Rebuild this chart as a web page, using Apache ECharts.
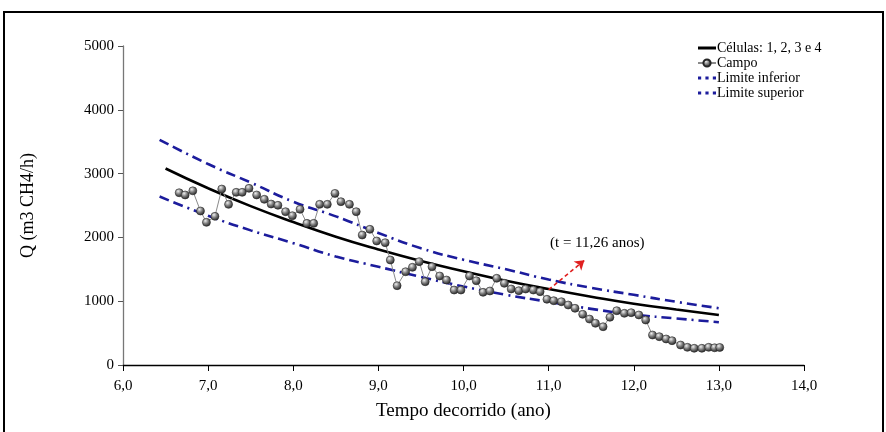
<!DOCTYPE html>
<html>
<head>
<meta charset="utf-8">
<script src="https://cdn.jsdelivr.net/npm/echarts@6/dist/echarts.min.js"></script>
<style>
  html, body { margin: 0; padding: 0; background: #fff; }
  #chart { width: 886px; height: 432px; }
</style>
</head>
<body>
<div id="chart"></div>
<script>
// valores
var campoT = [6.66, 6.73, 6.82, 6.91, 6.98, 7.08, 7.16, 7.24, 7.33, 7.40, 7.48, 7.57, 7.66, 7.74, 7.82, 7.91,
  7.99, 8.08, 8.16, 8.24, 8.31, 8.40, 8.49, 8.56, 8.66, 8.74, 8.81, 8.90, 8.98, 9.08, 9.14, 9.22,
  9.32, 9.40, 9.48, 9.55, 9.63, 9.72, 9.80, 9.89, 9.97, 10.07, 10.15, 10.23, 10.31, 10.39, 10.48,
  10.56, 10.65, 10.73, 10.82, 10.90, 10.98, 11.06, 11.15, 11.23, 11.31, 11.40, 11.48, 11.55, 11.64,
  11.72, 11.80, 11.89, 11.97, 12.06, 12.14, 12.22, 12.30, 12.38, 12.45, 12.55, 12.63, 12.71, 12.80,
  12.88, 12.95, 13.01];
var campoQ = [2700, 2665, 2730, 2414, 2236, 2330, 2758, 2518, 2706, 2706, 2769, 2665, 2597, 2523, 2503, 2403,
  2340, 2440, 2220, 2220, 2518, 2518, 2690, 2560, 2518, 2403, 2037, 2127, 1944, 1917, 1646, 1243,
  1462, 1531, 1620, 1305, 1540, 1395, 1332, 1175, 1175, 1395, 1321, 1139, 1160, 1359, 1280,
  1191, 1165, 1191, 1175, 1149, 1030, 1008, 992, 940, 889, 795, 720, 654, 600,
  748, 851, 810, 820, 784, 705, 470, 444, 408, 381, 313, 277, 262, 262,
  277, 270, 275];

var modeloT = [6.5, 7.0, 7.5, 8.0, 8.5, 9.0, 9.5, 10.0, 10.5, 11.0, 11.5, 12.0, 12.5, 13.0];
var modeloQ = [3080, 2770, 2490, 2240, 2010, 1810, 1630, 1470, 1320, 1190, 1070, 960, 870, 785];

var limT = [6.43, 7.0, 7.5, 8.0, 8.5, 9.0, 9.5, 10.0, 10.5, 11.0, 11.5, 12.0, 12.5, 13.0];
var limSupQ = [3530, 3150, 2860, 2560, 2330, 2070, 1830, 1650, 1500, 1340, 1210, 1100, 990, 890];
var limInfQ = [2640, 2340, 2110, 1910, 1700, 1540, 1380, 1230, 1100, 990, 880, 790, 730, 670];

var xTicks = [6, 7, 8, 9, 10, 11, 12, 13, 14];
var yTicks = [0, 1000, 2000, 3000, 4000, 5000];

var setaInicio = [11.0, 1180];
var setaFim = [11.42, 1640];

function pares(xs, ys) {
  return xs.map(function (x, i) { return [x, ys[i]]; });
}

var serif = 'Liberation Serif';
var azul = '#1c1c9c';
// icones da legenda
var iconeLinha = 'path://M0,0 L18,0 L18,3 L0,3 Z';
var iconePontos = 'path://M0,0h3v3h-3z M7,0h3v3h-3z M14,0h3v3h-3z';

var chart = echarts.init(document.getElementById('chart'));
chart.setOption({
  backgroundColor: '#fff',
  animation: false,
  textStyle: { fontFamily: serif },
  grid: { left: 123, right: 82, top: 46, bottom: 67 },
  legend: {
    orient: 'vertical',
    left: 692,
    top: 36,
    itemWidth: 18,
    itemHeight: 9,
    itemGap: 1,
    textStyle: { fontFamily: serif, fontSize: 14, lineHeight: 13.5, color: '#000', padding: [0, 0, 0, -4] },
    data: [
      { name: 'Células: 1, 2, 3 e 4', icon: iconeLinha, itemStyle: { color: '#000' } },
      { name: 'Campo' },
      { name: 'Limite inferior', icon: iconePontos, itemStyle: { color: azul } },
      { name: 'Limite superior', icon: iconePontos, itemStyle: { color: azul } }
    ]
  },
  xAxis: {
    type: 'value',
    min: xTicks[0],
    max: xTicks[xTicks.length - 1],
    interval: 1,
    name: 'Tempo decorrido (ano)',
    nameLocation: 'middle',
    nameGap: 37,
    nameTextStyle: { fontFamily: serif, fontSize: 19, color: '#000' },
    axisLine: { lineStyle: { color: '#000', width: 1.3 } },
    axisTick: { show: true, length: 6, lineStyle: { color: '#000' } },
    axisLabel: {
      fontFamily: serif, fontSize: 15, color: '#000', margin: 14,
      formatter: function (v) { return v.toFixed(1).replace('.', ','); }
    },
    splitLine: { show: false }
  },
  yAxis: {
    type: 'value',
    min: yTicks[0],
    max: yTicks[yTicks.length - 1],
    interval: 1000,
    name: 'Q (m3 CH4/h)',
    nameLocation: 'middle',
    nameGap: 86,
    nameRotate: 90,
    nameTextStyle: { fontFamily: serif, fontSize: 18, color: '#000' },
    axisLine: { show: true, lineStyle: { color: '#777', width: 1.3 } },
    axisTick: { show: true, length: 5, lineStyle: { color: '#555' } },
    axisLabel: {
      fontFamily: serif, fontSize: 15, color: '#000', margin: 9,
      formatter: function (v) { return String(v); }
    },
    splitLine: { show: false }
  },
  series: [
    {
      name: 'Células: 1, 2, 3 e 4',
      type: 'line',
      smooth: true,
      symbol: 'none',
      data: pares(modeloT, modeloQ),
      itemStyle: { color: '#000' },
      lineStyle: { color: '#000', width: 2.6 },
      z: 3
    },
    {
      name: 'Campo',
      type: 'line',
      symbol: 'circle',
      symbolSize: 8,
      data: pares(campoT, campoQ),
      lineStyle: { color: '#8a8a8a', width: 1 },
      itemStyle: {
        color: new echarts.graphic.RadialGradient(0.38, 0.32, 0.7, [
          { offset: 0, color: '#eeeeee' },
          { offset: 0.5, color: '#7a7a7a' },
          { offset: 1, color: '#222222' }
        ]),
        borderColor: '#262626',
        borderWidth: 0.6
      },
      z: 4,
      markLine: {
        silent: true,
        symbol: ['none', 'arrow'],
        symbolSize: 9,
        label: { show: false },
        lineStyle: { color: '#e02020', type: [4, 3], width: 1.6 },
        data: [[{ coord: setaInicio }, { coord: setaFim }]]
      }
    },
    {
      name: 'Limite inferior',
      type: 'line',
      smooth: true,
      symbol: 'none',
      data: pares(limT, limInfQ),
      itemStyle: { color: azul },
      lineStyle: { color: azul, width: 2.6, type: [10, 5, 10, 5, 2, 5] },
      z: 2
    },
    {
      name: 'Limite superior',
      type: 'line',
      smooth: true,
      symbol: 'none',
      data: pares(limT, limSupQ),
      itemStyle: { color: azul },
      lineStyle: { color: azul, width: 2.6, type: [10, 5, 10, 5, 2, 5] },
      z: 2
    }
  ],
  graphic: [
    {
      type: 'rect',
      shape: { x: 4, y: 12, width: 879, height: 440 },
      style: { fill: 'none', stroke: '#000', lineWidth: 2 },
      silent: true
    },
    {
      type: 'text',
      left: 550,
      top: 236,
      style: { text: '(t = 11,26 anos)', font: '15px "Liberation Serif"', fill: '#000' }
    }
  ]
});
</script>
</body>
</html>
